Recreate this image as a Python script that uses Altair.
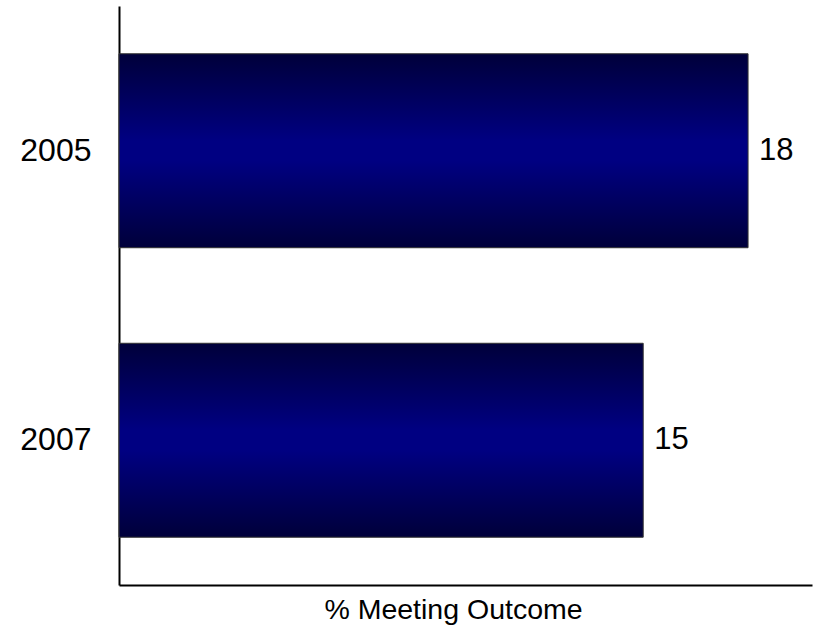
import altair as alt
import pandas as pd

years = ["2005", "2007"]
values = [18, 15]

df = pd.DataFrame({"year": years, "value": values})

FONT = "Liberation Sans"

gradient = alt.Gradient(
    gradient="linear",
    x1=0, y1=0, x2=0, y2=1,
    stops=[
        alt.GradientStop(color="#00003a", offset=0),
        alt.GradientStop(color="#000082", offset=0.45),
        alt.GradientStop(color="#000082", offset=0.55),
        alt.GradientStop(color="#00003a", offset=1),
    ],
)

x = alt.X(
    "value:Q",
    scale=alt.Scale(domain=[0, 19.83], nice=False, zero=True),
    axis=alt.Axis(
        title="% Meeting Outcome",
        labels=False,
        ticks=False,
        grid=False,
        domainColor="black",
        domainWidth=2,
        titleFont=FONT,
        titleFontSize=28.5,
        titleFontWeight="normal",
        titleColor="black",
        titlePadding=10,
        titleX=334,
        titleAlign="center",
    ),
)
y = alt.Y(
    "year:N",
    sort=years,
    scale=alt.Scale(paddingInner=0.33, paddingOuter=0.165),
    axis=alt.Axis(
        title=None,
        ticks=False,
        grid=False,
        domainColor="black",
        domainWidth=2,
        labelFont=FONT,
        labelFontSize=32,
        labelColor="black",
        labelPadding=28,
    ),
)

bars = alt.Chart(df).mark_bar(
    fill=gradient, stroke="#333333", strokeWidth=1
).encode(x=x, y=y)

text = alt.Chart(df).mark_text(
    align="left", baseline="middle", dx=11, font=FONT, fontSize=31, color="black"
).encode(x="value:Q", y=alt.Y("year:N", sort=years), text="value:Q")

chart = (
    alt.layer(bars, text)
    .properties(
        width=693,
        height=579,
        autosize=alt.AutoSizeParams(type="none"),
        padding={"left": 119, "top": 6, "right": 1, "bottom": 44},
        view=alt.ViewBackground(stroke="transparent", strokeWidth=0),
    )
    .configure_view(stroke="transparent", strokeWidth=0, strokeOpacity=0)
    .configure(background="white")
)

chart.save("out.html", embed_options={"renderer": "svg", "actions": False})
